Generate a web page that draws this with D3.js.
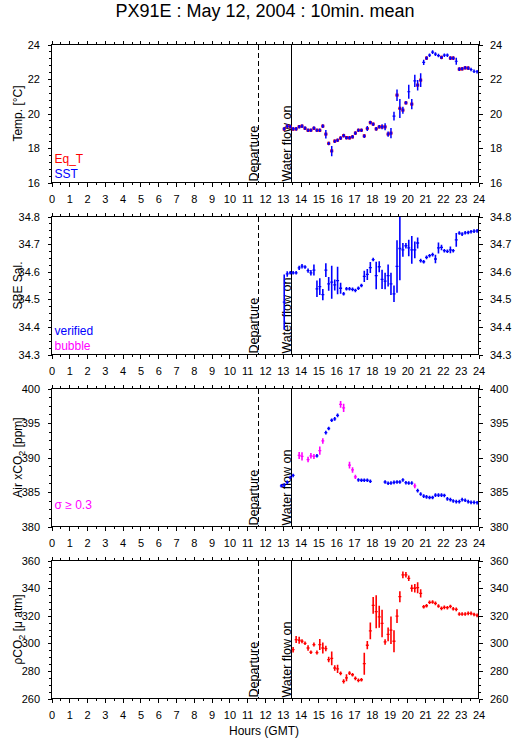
<!DOCTYPE html>
<html>
<head>
<meta charset="utf-8">
<script src="https://cdn.jsdelivr.net/npm/d3@7"></script>
<style>
  body { margin: 0; background: #fff; }
  svg text { font-family: "Liberation Sans", Arial, Helvetica, sans-serif; }
</style>
</head>
<body>
<div data-js-graph></div>
<script>
// 10 minute means, centre of each interval (hours GMT)
const hours = [12.92,
  13.08, 13.25, 13.42, 13.58, 13.75, 13.92,
  14.08, 14.25, 14.42, 14.58, 14.75, 14.92,
  15.08, 15.25, 15.42, 15.58, 15.75, 15.92,
  16.08, 16.25, 16.42, 16.58, 16.75, 16.92,
  17.08, 17.25, 17.42, 17.58, 17.75, 17.92,
  18.08, 18.25, 18.42, 18.58, 18.75, 18.92,
  19.08, 19.25, 19.42, 19.58, 19.75, 19.92,
  20.08, 20.25, 20.42, 20.58, 20.75, 20.92,
  21.08, 21.25, 21.42, 21.58, 21.75, 21.92,
  22.08, 22.25, 22.42, 22.58, 22.75, 22.92,
  23.08, 23.25, 23.42, 23.58, 23.75, 23.92];

const sst = [null,
  19.11, 19.27, 19.23, 19.11, 19.11, 19.23,
  19.27, 19.15, 19.03, 19.03, 19.15, 19.03,
  19.03, 19.27, 18.80, 18.26, 17.82, 18.39,
  18.45, 18.57, 18.72, 18.59, 18.59, 18.65,
  18.86, 19.03, 19.03, 18.69, 19.13, 19.48,
  19.38, 19.11, 19.23, 19.23, 19.23, 18.80,
  18.86, 19.85, 21.06, 20.29, 20.19, 20.62,
  21.26, 20.54, 21.89, 21.64, 21.93, 22.96,
  23.21, 23.38, 23.56, 23.44, 23.36, 23.25,
  23.38, 23.38, 23.21, 23.21, 23.03, 22.57,
  22.59, 22.65, 22.63, 22.55, 22.45, 22.42];

const sstSd = [null,
  0.03, 0.05, 0.03, 0.03, 0.03, 0.03,
  0.03, 0.03, 0.03, 0.03, 0.03, 0.03,
  0.03, 0.03, 0.25, 0.10, 0.30, 0.10,
  0.10, 0.03, 0.03, 0.03, 0.03, 0.03,
  0.03, 0.03, 0.03, 0.10, 0.15, 0.03,
  0.10, 0.10, 0.03, 0.15, 0.20, 0.15,
  0.30, 0.25, 0.33, 0.55, 0.20, 0.05,
  0.40, 0.30, 0.35, 0.30, 0.40, 0.15,
  0.05, 0.10, 0.05, 0.10, 0.10, 0.03,
  0.03, 0.03, 0.10, 0.03, 0.20, 0.03,
  0.03, 0.03, 0.03, 0.03, 0.03, 0.03];

const eqT = [null,
  19.10, 19.27, 19.22, 19.10, 19.11, 19.24,
  19.27, 19.14, 19.02, 19.03, 19.14, 19.03,
  19.02, 19.27, 18.80, 18.27, 17.83, 18.40,
  18.45, 18.57, 18.72, 18.60, 18.59, 18.65,
  18.86, 19.03, 19.03, 18.70, 19.13, 19.47,
  19.38, 19.11, 19.23, 19.23, 19.22, 18.80,
  18.86, null, 21.06, 20.30, 20.19, 20.62,
  null, 20.54, null, 21.65, 21.94, null,
  23.21, null, null, null, null, 23.25,
  null, null, 23.21, 23.21, null, 22.57,
  22.59, 22.65, 22.63, null, null, null];

const sal = [null,
  34.490, 34.592, 34.596, 34.596, 34.596, 34.614,
  34.620, 34.617, 34.604, 34.596, 34.606, 34.538,
  34.546, 34.517, 34.606, 34.556, 34.562, 34.552,
  34.568, 34.540, 34.520, 34.538, 34.538, 34.536,
  34.532, 34.540, 34.550, 34.583, 34.590, 34.615,
  34.644, 34.586, 34.618, 34.572, 34.566, 34.586,
  34.556, 34.520, 34.619, 34.684, 34.679, 34.694,
  34.686, 34.679, 34.679, 34.704, 34.640, 34.636,
  34.652, 34.658, 34.662, 34.646, 34.686, 34.688,
  34.676, 34.674, 34.679, 34.676, 34.715, 34.740,
  34.736, 34.741, 34.742, 34.745, 34.747, 34.748];

const salSd = [null,
  0.100, 0.010, 0.005, 0.005, 0.005, 0.008,
  0.008, 0.005, 0.008, 0.010, 0.020, 0.030,
  0.030, 0.020, 0.025, 0.025, 0.060, 0.020,
  0.050, 0.020, 0.005, 0.005, 0.005, 0.005,
  0.005, 0.005, 0.005, 0.020, 0.020, 0.020,
  0.005, 0.050, 0.020, 0.035, 0.030, 0.040,
  0.040, 0.030, 0.095, 0.115, 0.025, 0.010,
  0.030, 0.050, 0.030, 0.020, 0.005, 0.005,
  0.005, 0.005, 0.005, 0.015, 0.020, 0.010,
  0.005, 0.005, 0.012, 0.005, 0.025, 0.005,
  0.005, 0.005, 0.005, 0.005, 0.005, 0.005];

const xco2 = [385.9,
  386.0, 386.4, 387.1, 387.4, null, 390.3,
  390.15, null, 389.7, 390.25, 390.15, 390.25,
  391.0, 392.4, 393.6, 394.2, 395.4, 395.6,
  396.1, 397.7, 397.2, null, 388.9, 388.2,
  387.2, 386.75, 386.7, 386.7, 386.7, 386.55,
  null, null, null, null, 386.45, 386.26,
  386.3, 386.4, 386.45, 386.45, 386.75, 386.35,
  386.3, 386.3, 385.9, 385.2, 384.7, 384.4,
  384.3, 384.2, 384.2, 384.55, 384.55, 384.55,
  384.5, 384.0, 383.9, 383.7, 383.6, 383.6,
  383.9, 383.8, 383.6, 383.5, 383.5, 383.45];

const xco2Sd = [0.05,
  0.05, 0.05, 0.05, 0.05, null, 0.50,
  0.60, null, 0.40, 0.40, 0.35, 0.20,
  0.60, 0.40, 0.25, 0.20, 0.15, 0.15,
  0.20, 0.50, 0.60, null, 0.50, 0.40,
  0.30, 0.10, 0.05, 0.05, 0.05, 0.05,
  null, null, null, null, 0.08, 0.10,
  0.08, 0.08, 0.05, 0.05, 0.15, 0.05,
  0.05, 0.05, 0.35, 0.10, 0.08, 0.05,
  0.05, 0.05, 0.05, 0.05, 0.05, 0.05,
  0.10, 0.05, 0.05, 0.05, 0.05, 0.05,
  0.05, 0.05, 0.05, 0.05, 0.05, 0.05];

const pco2 = [null,
  null, null, null, 295.4, 302.7, 302.2,
  301.5, 300.0, 296.6, 293.5, 299.1, 293.3,
  299.1, 296.6, 296.2, 288.2, 289.1, 282.1,
  281.4, 278.2, 272.4, 275.0, 278.4, 277.2,
  274.6, 273.1, 273.6, 285.2, 298.6, 309.0,
  327.5, 322.9, 319.2, 314.4, 301.0, 306.4,
  309.5, 301.5, 319.7, 333.8, 349.6, 349.6,
  347.1, 339.9, 339.9, 340.3, 336.2, 326.5,
  327.2, 329.7, 329.9, 328.9, 327.0, 325.3,
  326.0, 325.8, 326.7, 325.0, 324.6, 321.2,
  321.2, 321.2, 321.7, 321.7, 320.9, 320.2];

const pco2Sd = [null,
  null, null, null, 2, 2.5, 2.5,
  1.5, 0.8, 2, 0.8, 1.5, 1.5,
  4, 4, 2, 2, 5, 2,
  3, 0.8, 1.5, 2.5, 0.8, 0.8,
  0.8, 0.8, 0.8, 8, 3, 6,
  6, 12, 8, 10, 2, 5,
  10, 8, 5, 4, 2.5, 2,
  2, 2.5, 3, 4, 3, 1,
  0.8, 0.8, 0.8, 0.8, 0.8, 0.8,
  0.8, 0.8, 0.8, 0.8, 0.8, 0.8,
  0.8, 0.8, 0.8, 0.8, 0.8, 0.8];

const events = [
  { label: 'Departure', hour: 11.65, dashed: true },
  { label: 'Water flow on', hour: 13.5, dashed: false },
];

const hourTicks = d3.range(0, 25);

const COLORS = { blue: '#0000ff', red: '#ff0000', magenta: '#ff00ff' };

const SETTING = {
  width: 515,
  height: 739,
  left: 51.5,
  right: 478.5,
  top: 44.5,
  panelHeight: 138,
  panelStep: 172,
  halfBin: 5 / 60,
  minBar: 1.8, // shortest half error bar, px, so every mean reads as a cross
};

const panels = [
  {
    label: [{ t: 'Temp. [°C]' }],
    domain: [16, 24], major: 2, minor: 0.4, format: d3.format('d'),
    layers: [
      { values: eqT, sd: null, color: () => COLORS.red, width: 3.2 },
      { values: sst, sd: sstSd, color: () => COLORS.blue, width: 1.2 },
    ],
    legend: [{ text: 'Eq_T', color: COLORS.red, dy: -20 }, { text: 'SST', color: COLORS.blue, dy: -5 }],
  },
  {
    label: [{ t: 'SBE Sal.' }],
    domain: [34.3, 34.8], major: 0.1, minor: 0.025, format: d3.format('.1f'),
    layers: [{ values: sal, sd: salSd, color: () => COLORS.blue, width: 1.3 }],
    legend: [{ text: 'verified', color: COLORS.blue, dy: -20 }, { text: 'bubble', color: COLORS.magenta, dy: -5 }],
  },
  {
    label: [{ t: 'Air xCO' }, { t: '2', sub: true }, { t: ' [ppm]' }],
    domain: [380, 400], major: 5, minor: 1.25, format: d3.format('d'),
    layers: [{ values: xco2, sd: xco2Sd, color: (s) => (s >= 0.3 ? COLORS.magenta : COLORS.blue), width: 1.3 }],
    legend: [{ text: 'σ ≥ 0.3', color: COLORS.magenta, dy: -18 }],
  },
  {
    label: [{ t: 'ρCO' }, { t: '2', sub: true }, { t: ' [μ atm]' }],
    domain: [260, 360], major: 20, minor: 5, format: d3.format('d'),
    layers: [{ values: pco2, sd: pco2Sd, color: () => COLORS.red, width: 1.3 }],
    legend: [],
  },
];

const svg = d3.select('[data-js-graph]').append('svg')
  .attr('width', SETTING.width)
  .attr('height', SETTING.height);

svg.append('rect').attr('width', SETTING.width).attr('height', SETTING.height).attr('fill', '#fff');

svg.append('text')
  .attr('x', 265)
  .attr('y', 17)
  .attr('text-anchor', 'middle')
  .attr('font-size', 18)
  .text('PX91E : May 12, 2004 : 10min. mean');

const x = d3.scaleLinear().domain([0, 24]).range([SETTING.left, SETTING.right]);

const stepTicks = (lo, hi, step) => d3.range(0, Math.round((hi - lo) / step) + 1)
  .map((i) => +(lo + i * step).toFixed(4));

function styleAxis(g, fontSize) {
  g.select('.domain').remove();
  g.selectAll('line').attr('stroke', '#000').attr('shape-rendering', 'crispEdges');
  g.selectAll('text').attr('font-size', fontSize).attr('fill', '#000').attr('font-family', null);
}

panels.forEach((p, i) => {
  const top = SETTING.top + i * SETTING.panelStep;
  const bottom = top + SETTING.panelHeight;
  const y = d3.scaleLinear().domain(p.domain).range([bottom, top]);
  const g = svg.append('g').attr('data-panel', i);

  // x axes (bottom with labels, top ticks only)
  const minorHours = d3.range(0.5, 24, 1);
  g.append('g').attr('transform', `translate(0,${bottom})`)
    .call(d3.axisBottom(x).tickValues(hourTicks).tickSize(4).tickPadding(9).tickFormat(d3.format('d')))
    .call((a) => styleAxis(a, 11));
  g.append('g').attr('transform', `translate(0,${bottom})`)
    .call(d3.axisBottom(x).tickValues(minorHours).tickSize(2.5).tickFormat(''))
    .call((a) => styleAxis(a, 11));
  g.append('g').attr('transform', `translate(0,${top})`)
    .call(d3.axisTop(x).tickValues(hourTicks).tickSize(4).tickFormat(''))
    .call((a) => styleAxis(a, 11));
  g.append('g').attr('transform', `translate(0,${top})`)
    .call(d3.axisTop(x).tickValues(minorHours).tickSize(2.5).tickFormat(''))
    .call((a) => styleAxis(a, 11));

  // y axes both sides
  const majors = stepTicks(p.domain[0], p.domain[1], p.major);
  const minors = stepTicks(p.domain[0], p.domain[1], p.minor);
  g.append('g').attr('transform', `translate(${SETTING.left},0)`)
    .call(d3.axisLeft(y).tickValues(majors).tickSize(4).tickPadding(7.5).tickFormat(p.format))
    .call((a) => styleAxis(a, 11));
  g.append('g').attr('transform', `translate(${SETTING.left},0)`)
    .call(d3.axisLeft(y).tickValues(minors).tickSize(2.5).tickFormat(''))
    .call((a) => styleAxis(a, 11));
  g.append('g').attr('transform', `translate(${SETTING.right},0)`)
    .call(d3.axisRight(y).tickValues(majors).tickSize(4).tickPadding(7.5).tickFormat(p.format))
    .call((a) => styleAxis(a, 11));
  g.append('g').attr('transform', `translate(${SETTING.right},0)`)
    .call(d3.axisRight(y).tickValues(minors).tickSize(2.5).tickFormat(''))
    .call((a) => styleAxis(a, 11));

  // frame
  g.append('rect')
    .attr('x', SETTING.left).attr('y', top)
    .attr('width', SETTING.right - SETTING.left).attr('height', SETTING.panelHeight)
    .attr('fill', 'none').attr('stroke', '#000').attr('shape-rendering', 'crispEdges');

  // y title
  const title = g.append('text')
    .attr('transform', `translate(21.5,${(top + bottom) / 2}) rotate(-90)`)
    .attr('text-anchor', 'middle')
    .attr('font-size', 12);
  p.label.forEach((part) => {
    const ts = title.append('tspan').text(part.t);
    if (part.sub) ts.attr('font-size', 9).attr('dy', 3);
    else if (title.selectAll('tspan').size() > 1) ts.attr('dy', -3);
  });

  // event markers
  events.forEach((ev) => {
    g.append('line')
      .attr('x1', x(ev.hour)).attr('x2', x(ev.hour))
      .attr('y1', top).attr('y2', bottom)
      .attr('stroke', '#000')
      .attr('stroke-dasharray', ev.dashed ? '5,3' : null)
      .attr('shape-rendering', 'crispEdges');
    g.append('text')
      .attr('transform', `translate(${x(ev.hour) - 0.5},${bottom - 1}) rotate(-90)`)
      .attr('font-size', 12.5)
      .text(ev.label);
  });

  // legend
  p.legend.forEach((l) => {
    g.append('text')
      .attr('x', SETTING.left + 3).attr('y', bottom + l.dy)
      .attr('font-size', 12)
      .attr('fill', l.color)
      .text(l.text);
  });

  // data crosses
  const clipId = `clip${i}`;
  g.append('clipPath').attr('id', clipId).append('rect')
    .attr('x', SETTING.left).attr('y', top)
    .attr('width', SETTING.right - SETTING.left).attr('height', SETTING.panelHeight);
  const plot = g.append('g').attr('clip-path', `url(#${clipId})`);

  p.layers.forEach((layer) => {
    const rows = hours
      .map((h, k) => ({ h, v: layer.values[k], s: layer.sd ? layer.sd[k] : null }))
      .filter((d) => d.v !== null);
    const lg = plot.append('g');
    lg.selectAll('line.h').data(rows).enter().append('line')
      .attr('class', 'h')
      .attr('x1', (d) => x(d.h - SETTING.halfBin))
      .attr('x2', (d) => x(d.h + SETTING.halfBin))
      .attr('y1', (d) => y(d.v)).attr('y2', (d) => y(d.v))
      .attr('stroke', (d) => layer.color(d.s))
      .attr('stroke-width', layer.width);
    if (layer.sd) {
      lg.selectAll('line.v').data(rows.filter((d) => d.s !== null)).enter().append('line')
        .attr('class', 'v')
        .attr('x1', (d) => x(d.h)).attr('x2', (d) => x(d.h))
        .attr('y1', (d) => Math.max(y(d.v - d.s), y(d.v) + SETTING.minBar))
        .attr('y2', (d) => Math.min(y(d.v + d.s), y(d.v) - SETTING.minBar))
        .attr('stroke', (d) => layer.color(d.s))
        .attr('stroke-width', layer.width + 0.3);
    }
  });
});

svg.append('text')
  .attr('x', 264)
  .attr('y', 735)
  .attr('text-anchor', 'middle')
  .attr('font-size', 12)
  .text('Hours (GMT)');
</script>
</body>
</html>
